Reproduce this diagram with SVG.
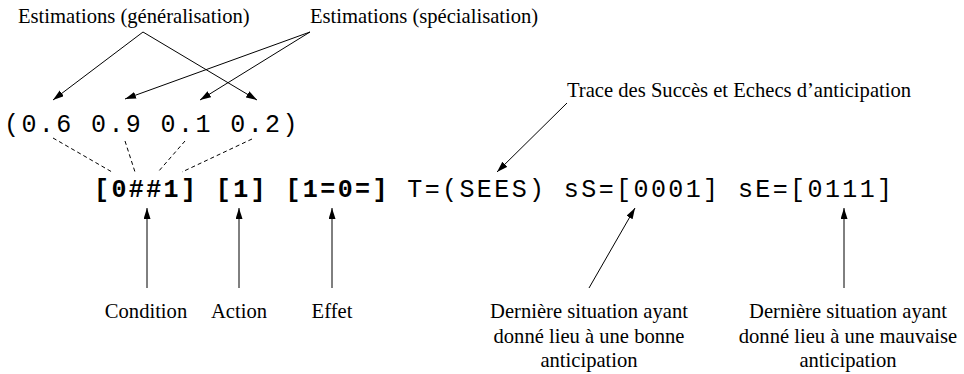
<svg xmlns="http://www.w3.org/2000/svg" width="964" height="374" viewBox="0 0 964 374">
<style>
.lbl{font-family:"Liberation Serif","Times New Roman",serif;font-size:20.6px;fill:#000}
.mono{font-family:"Liberation Mono","Courier New",monospace;font-size:25px;letter-spacing:2.4px;fill:#000}
.b{font-weight:bold}
.arr{stroke:#000;stroke-width:1;fill:none;marker-end:url(#ah)}
.dash{stroke:#000;stroke-width:1;fill:none;stroke-dasharray:4 3}
</style>
<defs>
<marker id="ah" markerUnits="userSpaceOnUse" markerWidth="12" markerHeight="8" refX="11" refY="3.5" orient="auto">
<path d="M0,0 L11,3.5 L0,7 z" fill="#000"/>
</marker>
</defs>
<rect width="964" height="374" fill="#fff"/>
<g id="est-gen"><text class="lbl" x="18" y="23">Estimations (généralisation)</text></g>
<g id="est-spec"><text class="lbl" x="310" y="23">Estimations (spécialisation)</text></g>
<g id="trace"><text class="lbl" x="567" y="97">Trace des Succès et Echecs d’anticipation</text></g>
<g id="tuple"><text class="mono" x="4" y="132">(0.6 0.9 0.1 0.2)</text></g>
<g id="classifier"><text class="mono" x="94" y="197"><tspan class="b">[0##1] [1] [1=0=]</tspan> T=(SEES) sS=[0001] sE=[0111]</text></g>
<g id="condition"><text class="lbl" x="146" y="318" text-anchor="middle">Condition</text></g>
<g id="action"><text class="lbl" x="239" y="318" text-anchor="middle">Action</text></g>
<g id="effet"><text class="lbl" x="332" y="318" text-anchor="middle">Effet</text></g>
<g id="bonne"><text class="lbl" text-anchor="middle"><tspan x="589" y="318">Dernière situation ayant</tspan><tspan x="589" y="343">donné lieu à une bonne</tspan><tspan x="589" y="367">anticipation</tspan></text></g>
<g id="mauvaise"><text class="lbl" text-anchor="middle"><tspan x="848" y="318">Dernière situation ayant</tspan><tspan x="848" y="343">donné lieu à une mauvaise</tspan><tspan x="848" y="367">anticipation</tspan></text></g>
<g id="connectors">
<line class="arr" x1="143" y1="32" x2="53" y2="100"/>
<line class="arr" x1="143" y1="32" x2="257" y2="100"/>
<line class="arr" x1="310" y1="32" x2="125" y2="99"/>
<line class="arr" x1="310" y1="32" x2="200" y2="100"/>
<line class="arr" x1="567" y1="103" x2="497" y2="172"/>
<line class="dash" x1="53" y1="138" x2="112" y2="172"/>
<line class="dash" x1="125" y1="141" x2="135" y2="172"/>
<line class="dash" x1="185" y1="141" x2="158" y2="172"/>
<line class="dash" x1="252" y1="139" x2="182" y2="172"/>
<line class="arr" x1="147" y1="288" x2="147" y2="208"/>
<line class="arr" x1="239" y1="288" x2="239" y2="208"/>
<line class="arr" x1="332" y1="288" x2="332" y2="208"/>
<line class="arr" x1="589" y1="288" x2="635" y2="208"/>
<line class="arr" x1="844" y1="288" x2="844" y2="208"/>
</g>
</svg>
